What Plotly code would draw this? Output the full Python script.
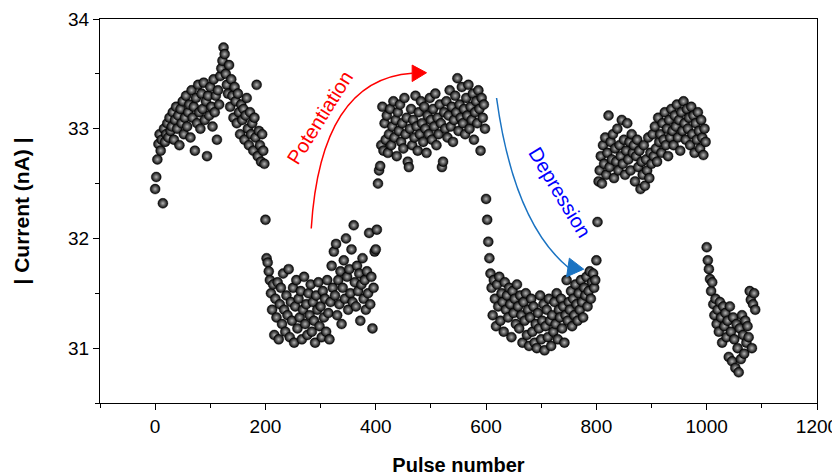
import plotly.graph_objects as go

# current (nA), one value every 2 pulses, per pulse train
seg1_start = 0
seg1 = [32.45, 32.56, 32.72, 32.86, 32.95, 32.80, 32.90, 32.32, 33.00, 32.88,
        32.95, 33.05, 32.92, 33.10, 32.98, 33.02, 33.15, 32.90, 33.08, 33.20,
        33.00, 33.12, 32.85, 33.18, 33.05, 33.25, 32.95, 33.10, 33.30, 33.02,
        33.15, 33.22, 32.92, 33.35, 33.10, 33.20, 32.80, 33.28, 33.05, 33.40,
        33.15, 33.00, 33.32, 33.18, 33.42, 33.08, 33.25, 32.75, 33.30, 33.12,
        33.38, 33.20, 33.02, 33.45, 33.15, 33.30, 32.90, 33.35, 33.22, 33.48,
        33.55, 33.62, 33.74, 33.68, 33.50, 33.40, 33.32, 33.58, 33.20, 33.45,
        33.30, 33.10, 33.38, 33.25, 33.05, 33.32, 33.15, 32.95, 33.22, 33.08,
        33.18, 32.90, 33.12, 33.28, 33.00, 32.85, 33.15, 32.95, 33.05, 32.80,
        33.10, 32.92, 33.40, 32.75, 32.98, 32.85, 32.70, 32.95, 32.80, 32.68]

seg2_start = 200
seg2 = [32.17, 31.82, 31.78, 31.70, 31.62, 31.50, 31.35, 31.58, 31.12, 31.45,
        31.28, 31.60, 31.08, 31.40, 31.55, 31.22, 31.68, 31.35, 31.15, 31.48,
        31.30, 31.72, 31.10, 31.42, 31.25, 31.55, 31.05, 31.38, 31.62, 31.18,
        31.45, 31.28, 31.52, 31.08, 31.35, 31.65, 31.22, 31.40, 31.12, 31.50,
        31.30, 31.58, 31.15, 31.42, 31.25, 31.05, 31.48, 31.35, 31.60, 31.20,
        31.38, 31.10, 31.52, 31.28, 31.45, 31.15, 31.62, 31.32, 31.08, 31.42,
        31.75, 31.55, 31.88, 31.48, 31.95, 31.30, 31.62, 31.40, 31.70, 31.22,
        31.55, 31.80, 31.45, 32.00, 31.65, 31.35, 31.72, 31.50, 31.90, 31.42,
        32.12, 31.60, 31.38, 31.75, 31.52, 31.68, 31.25, 31.58, 31.82, 31.45,
        31.62, 31.35, 31.70, 31.50, 32.05, 31.40, 31.65, 31.18, 31.55, 31.88]

seg3_start = 400
seg3 = [31.90, 32.08, 32.50, 32.62, 32.66, 32.85, 33.20, 32.80, 33.05, 32.90,
        33.12, 32.78, 32.95, 33.18, 32.85, 33.02, 33.25, 32.92, 33.08, 32.75,
        33.15, 32.98, 33.22, 32.88, 33.05, 32.82, 33.28, 32.95, 33.10, 32.70,
        32.65, 33.00, 33.18, 32.85, 33.08, 32.92, 33.30, 33.02, 32.80, 33.15,
        32.95, 33.25, 33.05, 32.88, 33.20, 33.00, 32.78, 33.12, 32.95, 33.28,
        33.08, 32.90, 33.18, 33.02, 33.32, 32.85, 33.10, 32.95, 33.22, 33.05,
        32.65, 32.70, 33.15, 33.00, 33.25, 32.92, 33.12, 33.35, 33.02, 33.20,
        32.88, 33.08, 33.30, 33.15, 33.46, 32.98, 33.22, 33.10, 33.38, 33.05,
        33.18, 32.95, 33.28, 33.12, 33.40, 33.00, 33.20, 33.08, 33.32, 32.90,
        33.15, 33.25, 33.05, 33.35, 33.18, 32.80, 33.28, 33.10, 33.22, 33.00]

seg4_start = 600
seg4 = [32.36, 32.17, 31.97, 31.82, 31.68, 31.55, 31.30, 31.62, 31.45, 31.20,
        31.58, 31.38, 31.65, 31.25, 31.50, 31.42, 31.15, 31.60, 31.35, 31.48,
        31.28, 31.55, 31.40, 31.10, 31.52, 31.32, 31.45, 31.22, 31.58, 31.38,
        31.18, 31.48, 31.30, 31.05, 31.42, 31.25, 31.50, 31.12, 31.35, 31.02,
        31.28, 31.45, 31.15, 31.38, 31.05, 31.22, 31.00, 31.32, 31.18, 31.48,
        31.08, 31.25, 31.40, 30.98, 31.20, 31.35, 31.10, 31.45, 31.25, 31.02,
        31.30, 31.15, 31.42, 31.22, 31.50, 31.08, 31.35, 31.28, 31.45, 31.18,
        31.38, 31.05, 31.30, 31.62, 31.25, 31.42, 31.35, 31.52, 31.20, 31.45,
        31.30, 31.58, 31.40, 31.25, 31.50, 31.35, 31.62, 31.42, 31.28, 31.55,
        31.48, 31.65, 31.38, 31.52, 31.70, 31.45, 31.60, 31.68, 31.55, 31.62]

seg5_start = 800
seg5 = [31.80, 32.15, 32.52, 32.62, 32.75, 32.50, 32.85, 32.68, 32.92, 32.58,
        32.78, 33.12, 32.65, 32.88, 32.72, 32.95, 32.55, 32.82, 32.70, 33.00,
        32.62, 32.85, 32.75, 33.08, 32.68, 32.90, 32.58, 32.80, 33.05, 32.72,
        32.88, 32.62, 32.95, 32.78, 32.85, 32.52, 32.75, 32.90, 32.65, 32.80,
        32.45, 32.70, 32.58, 32.85, 32.48, 32.72, 32.62, 32.92, 32.55, 32.78,
        32.68, 32.95, 32.75, 33.02, 32.82, 32.70, 33.10, 32.88, 32.95, 32.78,
        33.05, 32.90, 33.15, 32.85, 33.00, 32.75, 33.08, 32.92, 33.18, 32.98,
        32.85, 33.12, 33.02, 33.22, 32.92, 33.08, 32.80, 33.15, 32.98, 33.25,
        33.05, 32.90, 33.18, 33.00, 33.10, 32.85, 33.20, 32.95, 33.12, 32.78,
        33.05, 32.90, 33.15, 32.98, 32.82, 33.08, 32.92, 32.76, 33.00, 32.88]

seg6_start = 1000
seg6 = [31.92, 31.80, 31.72, 31.63, 31.52, 31.60, 31.40, 31.30, 31.45, 31.22,
        31.35, 31.15, 31.42, 31.28, 31.05, 31.38, 31.20, 31.32, 31.10, 31.25,
        30.92, 31.38, 31.15, 30.88, 31.28, 31.08, 30.82, 31.22, 31.00, 30.78,
        31.18, 30.90, 31.30, 31.12, 30.95, 31.25, 31.05, 31.20, 31.10, 31.52,
        31.44, 31.00, 31.40, 31.50, 31.35]

pulse_step = 2

x_ticks = [0, 200, 400, 600, 800, 1000, 1200]
y_ticks = [31, 32, 33, 34]

# arrows (data coords): start, bezier control, end of curve, arrowhead
pot_curve = [(283, 32.09), (300, 33.45), (466, 33.505)]
pot_head = [(466, 33.58), (492, 33.51), (466, 33.43)]
dep_curve = [(619, 33.28), (650, 32.15), (749, 31.735)]
dep_head = [(751, 31.82), (777, 31.72), (746, 31.65)]

xs, ys = [], []
for start, vals in [(seg1_start, seg1), (seg2_start, seg2), (seg3_start, seg3),
                    (seg4_start, seg4), (seg5_start, seg5), (seg6_start, seg6)]:
    xs += [start + pulse_step * i for i in range(len(vals))]
    ys += vals

fig = go.Figure()
fig.add_trace(go.Scatter(
    x=xs, y=ys, mode="markers", showlegend=False, cliponaxis=False,
    marker=dict(size=10, color="#000000",
                gradient=dict(type="radial", color="#b4b4b4"),
                line=dict(width=0.4, color="#000000"))))


def curve_path(pts):
    (x0, y0), (cx, cy), (x1, y1) = pts
    return f"M {x0},{y0} Q {cx},{cy} {x1},{y1}"


def head_path(pts):
    return "M " + " L ".join(f"{x},{y}" for x, y in pts) + " Z"


fig.add_shape(type="path", path=curve_path(pot_curve), xref="x", yref="y",
              line=dict(color="#ff0000", width=1.5))
fig.add_shape(type="path", path=head_path(pot_head), xref="x", yref="y",
              line=dict(color="#ff0000", width=1), fillcolor="#ff0000")
fig.add_shape(type="path", path=curve_path(dep_curve), xref="x", yref="y",
              line=dict(color="#1a73c2", width=1.5))
fig.add_shape(type="path", path=head_path(dep_head), xref="x", yref="y",
              line=dict(color="#1a73c2", width=1), fillcolor="#1a73c2")

fig.add_annotation(x=298, y=33.10, text="Potentiation", showarrow=False,
                   textangle=-58, font=dict(family="Arial", size=20, color="#ff0000"))
fig.add_annotation(x=733, y=32.42, text="Depression", showarrow=False,
                   textangle=59, font=dict(family="Arial", size=20, color="#0000ff"))

axis_style = dict(showline=True, linecolor="black", linewidth=1.3, mirror=True,
                  ticks="outside", ticklen=6, tickwidth=1.2, tickcolor="black",
                  showgrid=False, zeroline=False, automargin=False,
                  tickfont=dict(family="Arial", size=19, color="black"))

fig.update_xaxes(range=[-100, 1200], tickvals=x_ticks,
                 minor=dict(dtick=100, ticks="outside", ticklen=4, tickcolor="black"),
                 title=dict(text="<b>Pulse number</b>", standoff=26,
                            font=dict(family="Arial", size=20, color="black")),
                 **axis_style)
fig.update_yaxes(range=[30.5, 34], tickvals=y_ticks,
                 minor=dict(dtick=0.5, ticks="outside", ticklen=4, tickcolor="black"),
                 title=dict(text="<b>| Current (nA) |</b>", standoff=32,
                            font=dict(family="Arial", size=21, color="black")),
                 **axis_style)

# the page adds an 8px body margin, so the figure is 8px smaller each way
fig.update_layout(width=832, height=468, plot_bgcolor="white", paper_bgcolor="white",
                  margin=dict(l=92, r=23, t=11, b=73))

fig.write_html("out.html")
